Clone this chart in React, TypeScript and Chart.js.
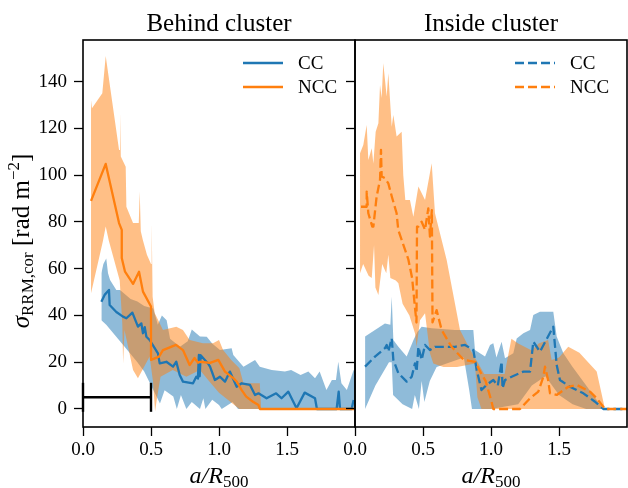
import React, { useEffect, useRef } from 'react';
import { Chart, registerables } from 'chart.js';

Chart.register(...registerables);

type P = [number, number][];

const SERIF = '"Liberation Serif", "DejaVu Serif", serif';
const BLUE = '#1f77b4';
const ORANGE = '#ff7f0e';
const BLUE_BAND = 'rgba(31,119,180,0.5)';
const ORANGE_BAND = 'rgba(255,127,14,0.5)';

// ---- axes / labels ----
const xTicks = [0, 0.5, 1.0, 1.5];
const yTicks = [0, 20, 40, 60, 80, 100, 120, 140];
const xMin = 0;
const xMax = 2.0;
const yMin = -7.7;
const yMax = 157.8;
const panelTitles = ['Behind cluster', 'Inside cluster'];
const seriesNames = ['CC', 'NCC'];

// ---- left panel (behind cluster) ----
const leftCcLine: P = [
  [0.135, 45.9], [0.159, 48.8], [0.191, 50.9], [0.196, 44.5], [0.245, 41.5], [0.294, 39.5],
  [0.319, 38.8], [0.363, 41.2], [0.404, 35.2], [0.429, 36.6], [0.441, 32.4], [0.454, 35],
  [0.466, 30.9], [0.49, 29.5], [0.527, 26], [0.551, 23.8], [0.564, 19.5], [0.613, 20.2],
  [0.662, 18.1], [0.686, 20.2], [0.711, 14.5], [0.735, 11.7], [0.809, 11], [0.833, 13.8],
  [0.845, 13], [0.852, 23.1], [0.858, 14], [0.865, 23], [0.919, 19.5], [0.934, 18.1],
  [0.97, 12.4], [1.007, 13.8], [1.044, 11.7], [1.08, 16], [1.13, 9.5], [1.167, 11],
  [1.228, 10.3], [1.265, 6], [1.29, 6.7], [1.35, 4.6], [1.42, 6.7], [1.46, 4.6],
  [1.51, 7.4], [1.57, 0.3], [1.63, 7], [1.706, 4.6], [1.72, 0], [1.865, 0], [1.88, 7.4],
  [1.89, 0], [1.975, 0], [1.99, 3.8],
];
const leftCcHi: P = [
  [0.135, 58], [0.15, 62], [0.171, 64.4], [0.184, 58], [0.199, 55.2], [0.245, 50.9],
  [0.272, 50.9], [0.35, 47], [0.4, 46], [0.45, 44], [0.517, 43], [0.55, 36], [0.58, 40],
  [0.615, 38], [0.64, 30], [0.713, 26.6], [0.77, 29], [0.8, 34], [0.86, 31], [0.91, 30.9],
  [0.95, 28], [1.007, 25.2], [1.093, 26], [1.105, 23.1], [1.18, 18.1], [1.265, 21],
  [1.3, 18.1], [1.387, 16.7], [1.485, 16], [1.53, 16.7], [1.6, 14.5], [1.657, 16],
  [1.706, 13.1], [1.74, 16], [1.79, 8.1], [1.83, 12.4], [1.86, 12.4], [1.877, 20.2],
  [1.9, 11], [1.94, 8.1], [1.99, 16.7], [2.0, 16],
];
const leftCcLo: P = [
  [0.135, 38], [0.171, 36], [0.2, 34], [0.3, 27], [0.4, 20], [0.45, 16], [0.517, 8.1],
  [0.566, 2.4], [0.6, 8], [0.664, 5.3], [0.69, 0], [0.72, 6], [0.76, 0], [0.8, 3],
  [0.86, 0], [0.885, 4.6], [0.9, 0], [0.95, 4], [1.0, 1.7], [1.02, 0], [1.1, 3],
  [1.14, 0], [2.0, 0],
];
const leftNccLine: P = [
  [0.059, 89], [0.167, 104.8], [0.265, 79.5], [0.285, 76.6], [0.285, 64.6], [0.309, 58.7],
  [0.368, 53.5], [0.412, 58.7], [0.441, 50.2], [0.5, 43.8], [0.5, 21], [0.559, 22.4],
  [0.588, 25.2], [0.684, 27.4], [0.735, 25.2], [0.784, 18.8], [0.82, 21.8], [0.846, 19.8],
  [0.86, 20.2], [0.934, 19.7], [0.995, 21], [1.044, 16], [1.105, 13.2], [1.13, 11.7],
  [1.167, 8.1], [1.2, 5.3], [1.25, 3.1], [1.29, 1.7], [1.3, 0], [2.0, 0],
];
const leftNccHi: P = [
  [0.059, 132], [0.066, 128.6], [0.142, 135], [0.167, 151], [0.265, 110.8], [0.272, 126.7],
  [0.278, 108], [0.314, 103.6], [0.319, 86.5], [0.368, 79.5], [0.41, 79.5], [0.417, 93],
  [0.425, 76], [0.44, 72.3], [0.47, 66], [0.5, 62], [0.505, 79.7], [0.512, 48],
  [0.527, 41], [0.588, 33.8], [0.686, 35.2], [0.735, 33.8], [0.784, 29.5], [0.882, 28.1],
  [0.956, 28.1], [1.0, 29.5], [1.03, 25.2], [1.09, 21], [1.15, 17.4], [1.18, 11],
  [1.3, 11], [1.31, 0],
];
const leftNccLo: P = [
  [0.059, 49.5], [0.147, 72], [0.167, 78], [0.19, 72], [0.27, 55], [0.289, 36.6],
  [0.295, 19.5], [0.305, 33.8], [0.368, 16.7], [0.404, 13.1], [0.49, 22.4], [0.515, 11.7],
  [0.53, -1], [0.545, 5], [0.57, 13.8], [0.66, 16.7], [0.76, 13.8], [0.86, 16.7],
  [0.92, 12.4], [1.0, 7], [1.15, 0], [1.31, 0],
];
const refBarX = [0, 0.5];
const refBarY = 5;
const refBarCap = 6.2;

// ---- right panel (inside cluster) ----
const rightCcLine: P = [
  [0.074, 18.1], [0.147, 22.4], [0.22, 26], [0.233, 27.4], [0.245, 24.5], [0.27, 30.2],
  [0.282, 21], [0.319, 15.3], [0.38, 11.7], [0.417, 13.8], [0.441, 19.5], [0.453, 16],
  [0.466, 26.6], [0.49, 21], [0.515, 27.4], [0.551, 25.2], [0.588, 26.6], [0.735, 26.6],
  [0.809, 27.4], [0.87, 25.2], [0.895, 16.7], [0.93, 8.1], [0.968, 10.3], [1.017, 12.4],
  [1.05, 10], [1.078, 20.2], [1.085, 8.8], [1.103, 12.4], [1.152, 13.8], [1.238, 16],
  [1.287, 16], [1.311, 28.8], [1.36, 24.5], [1.458, 35.2], [1.483, 18.8], [1.507, 12.4],
  [1.58, 9.5], [1.679, 6.7], [1.765, 3.1], [1.826, 0], [2.0, 0],
];
const rightCcHi: P = [
  [0.074, 31], [0.22, 36.6], [0.26, 36], [0.27, 48], [0.282, 29.5], [0.319, 26.6],
  [0.38, 22.4], [0.43, 29.5], [0.46, 33], [0.49, 35.2], [0.564, 34.5], [0.735, 33.8],
  [0.87, 33.8], [0.882, 25.2], [0.956, 22.4], [0.993, 27.4], [1.017, 28.1], [1.04, 22],
  [1.078, 28.8], [1.103, 21.7], [1.164, 23.8], [1.189, 30.2], [1.238, 32.4], [1.287, 33.8],
  [1.311, 40.2], [1.36, 41.6], [1.458, 41.6], [1.483, 31], [1.532, 23.8], [1.6, 18],
  [1.7, 10], [1.8, 2], [1.826, 0],
];
const rightCcLo: P = [
  [0.074, 0], [0.15, 10], [0.25, 20], [0.27, 20], [0.28, 6], [0.35, 2], [0.42, 0],
  [0.44, 6], [0.47, 0], [0.49, 12], [0.51, 3], [0.55, 12], [0.6, 18], [0.8, 22],
  [0.84, 8], [0.86, 0], [1.0, 0], [1.2, 2], [1.3, 10], [1.4, 14], [1.5, 6], [1.6, 2],
  [1.7, 0], [1.826, 0],
];
const rightNccLine: P = [
  [0.044, 86.5], [0.086, 86.5], [0.086, 93], [0.098, 83.7], [0.127, 78], [0.135, 78],
  [0.159, 90.8], [0.184, 98], [0.191, 110.8], [0.196, 99.4], [0.22, 98.7], [0.245, 96.5],
  [0.27, 91], [0.306, 83.7], [0.318, 76.6], [0.343, 72.3], [0.392, 64], [0.42, 56],
  [0.44, 44], [0.452, 37], [0.456, 78], [0.466, 78], [0.49, 80.1], [0.515, 76.6],
  [0.539, 85.8], [0.551, 73.7], [0.565, 85], [0.57, 37], [0.6, 42.3], [0.637, 33.8],
  [0.71, 26.6], [0.8, 21], [0.882, 20.2], [0.93, 15], [0.96, 12], [1.0, 4], [1.017, 0],
  [1.213, 0], [1.287, 4.6], [1.348, 7.4], [1.385, 13.8], [1.397, 18.1], [1.42, 12.4],
  [1.434, 6.7], [1.483, 6], [1.568, 9.5], [1.63, 10.3], [1.728, 7.4], [1.777, 4.6],
  [1.838, 0], [2.0, 0],
];
const rightNccHi: P = [
  [0.037, 109.4], [0.061, 112.9], [0.086, 121.5], [0.098, 106.5], [0.123, 111.5],
  [0.135, 105], [0.152, 118.6], [0.172, 122.2], [0.184, 138.6], [0.196, 133],
  [0.208, 147.9], [0.233, 133.6], [0.245, 143.6], [0.27, 120.7], [0.282, 125.7],
  [0.306, 116.5], [0.343, 118.6], [0.355, 100], [0.37, 89.4], [0.404, 89.4], [0.429, 82.2],
  [0.466, 95.1], [0.515, 89.4], [0.564, 105.1], [0.588, 83.7], [0.674, 63.7], [0.772, 33.8],
  [0.85, 25], [0.907, 19.5], [0.95, 15], [0.99, 15], [1.1, 15], [1.15, 30], [1.2, 28],
  [1.3, 25], [1.35, 28], [1.42, 29.5], [1.446, 21], [1.5, 22], [1.568, 26.6], [1.65, 24],
  [1.777, 16], [1.838, 0],
];
const rightNccLo: P = [
  [0.037, 58], [0.06, 62], [0.1, 57], [0.123, 56], [0.14, 70], [0.15, 52], [0.172, 48.8],
  [0.2, 62], [0.23, 58], [0.245, 66], [0.26, 56], [0.3, 55], [0.319, 53.8], [0.35, 45],
  [0.4, 40], [0.441, 32.4], [0.453, 26.6], [0.478, 38], [0.515, 40.9], [0.551, 23.8],
  [0.576, 19.5], [0.65, 18], [0.75, 18], [0.882, 19.5], [0.9, 5], [0.93, 0], [1.838, 0],
];

const pts = (a: P) => a.map(([x, y]) => ({ x, y }));
const LW = 2.3;
const DASH = [9, 4];

type Part = { t: string; f: string; dy: number };
function drawRich(ctx: CanvasRenderingContext2D, parts: Part[], cx: number, by: number) {
  let w = 0;
  for (const p of parts) { ctx.font = p.f; w += ctx.measureText(p.t).width; }
  let x = cx - w / 2;
  ctx.textAlign = 'left';
  ctx.textBaseline = 'alphabetic';
  for (const p of parts) {
    ctx.font = p.f;
    ctx.fillText(p.t, x, by + p.dy);
    x += ctx.measureText(p.t).width;
  }
}

function decor(cfg: { title: string; dashed: boolean; yLabel: boolean }) {
  return {
    id: 'decor',
    afterDraw(chart: any) {
      const ctx: CanvasRenderingContext2D = chart.ctx;
      const a = chart.chartArea;
      const cx = (a.left + a.right) / 2;
      ctx.save();
      ctx.strokeStyle = '#000';
      ctx.lineWidth = 1.6;
      ctx.setLineDash([]);
      ctx.strokeRect(a.left, a.top, a.right - a.left, a.bottom - a.top);
      ctx.fillStyle = '#000';
      ctx.font = `25px ${SERIF}`;
      ctx.textAlign = 'center';
      ctx.textBaseline = 'alphabetic';
      ctx.fillText(cfg.title, cx, 31);
      drawRich(ctx, [
        { t: 'a/R', f: `italic 24px ${SERIF}`, dy: 0 },
        { t: '500', f: `17px ${SERIF}`, dy: 4 },
      ], cx, 483);
      // legend
      const colors = [BLUE, ORANGE];
      const lx1 = a.right - 112;
      const lx2 = a.right - 72;
      const tx = a.right - 57;
      [63, 87].forEach((ly, i) => {
        ctx.strokeStyle = colors[i];
        ctx.lineWidth = LW;
        ctx.setLineDash(cfg.dashed ? DASH : []);
        ctx.beginPath();
        ctx.moveTo(lx1, ly);
        ctx.lineTo(lx2, ly);
        ctx.stroke();
        ctx.setLineDash([]);
        ctx.fillStyle = '#000';
        ctx.font = `19px ${SERIF}`;
        ctx.textAlign = 'left';
        ctx.textBaseline = 'middle';
        ctx.fillText(seriesNames[i], tx, ly + 1);
      });
      if (cfg.yLabel) {
        ctx.save();
        ctx.translate(29, 241);
        ctx.rotate(-Math.PI / 2);
        ctx.fillStyle = '#000';
        drawRich(ctx, [
          { t: 'σ', f: `italic 25px ${SERIF}`, dy: 0 },
          { t: 'RRM,cor', f: `17px ${SERIF}`, dy: 4 },
          { t: ' [rad m', f: `25px ${SERIF}`, dy: 0 },
          { t: '−2', f: `17px ${SERIF}`, dy: -10 },
          { t: ']', f: `25px ${SERIF}`, dy: 0 },
        ], 0, 0);
        ctx.restore();
      }
      ctx.restore();
    },
  };
}

function band(hi: P, lo: P, color: string, order: number) {
  return [
    { data: pts(hi), fill: '+1', backgroundColor: color, borderWidth: 0, pointRadius: 0, order },
    { data: pts(lo), fill: false, backgroundColor: color, borderWidth: 0, pointRadius: 0, order },
  ];
}
function line(d: P, color: string, dashed: boolean, order: number) {
  return {
    data: pts(d), borderColor: color, borderWidth: LW, borderDash: dashed ? DASH : [],
    borderJoinStyle: 'round', pointRadius: 0, fill: false, order,
  };
}

function makeChart(canvas: HTMLCanvasElement, side: 'left' | 'right') {
  const isLeft = side === 'left';
  const datasets: any[] = [];
  if (isLeft) {
    datasets.push(...band(leftCcHi, leftCcLo, BLUE_BAND, 10));
    datasets.push(...band(leftNccHi, leftNccLo, ORANGE_BAND, 9));
    datasets.push(line(leftCcLine, BLUE, false, 5));
    datasets.push(line(leftNccLine, ORANGE, false, 4));
    const bar = { borderColor: '#000', borderWidth: 2.4, pointRadius: 0, fill: false, order: 1, clip: false };
    datasets.push({ ...bar, data: refBarX.map((x) => ({ x, y: refBarY })) });
    refBarX.forEach((x) => {
      datasets.push({ ...bar, data: [{ x, y: refBarY - refBarCap }, { x, y: refBarY + refBarCap }] });
    });
  } else {
    datasets.push(...band(rightCcHi, rightCcLo, BLUE_BAND, 10));
    datasets.push(...band(rightNccHi, rightNccLo, ORANGE_BAND, 9));
    datasets.push(line(rightCcLine, BLUE, true, 5));
    datasets.push(line(rightNccLine, ORANGE, true, 4));
  }
  const tickFont = { family: SERIF, size: 19 };
  return new Chart(canvas, {
    type: 'line',
    data: { datasets },
    plugins: [decor({ title: isLeft ? panelTitles[0] : panelTitles[1], dashed: !isLeft, yLabel: isLeft })],
    options: {
      responsive: false,
      animation: false,
      devicePixelRatio: 1,
      layout: { padding: isLeft ? { left: 0, right: 273, top: 40, bottom: 0 } : { left: 346, right: 1, top: 40, bottom: 0 } },
      plugins: { legend: { display: false }, title: { display: false }, tooltip: { enabled: false } },
      scales: {
        x: {
          type: 'linear', min: xMin, max: xMax,
          afterBuildTicks: (s: any) => { s.ticks = xTicks.map((v) => ({ value: v })); },
          afterFit: (s: any) => { s.height = 61; },
          grid: { drawOnChartArea: false, drawTicks: true, tickLength: 9, tickWidth: 1.3, tickColor: '#000' },
          border: { display: false },
          ticks: { color: '#000', font: tickFont, padding: 3, autoSkip: false, maxRotation: 0, callback: (v: any) => Number(v).toFixed(1) },
        },
        y: {
          type: 'linear', min: yMin, max: yMax,
          afterBuildTicks: (s: any) => { s.ticks = yTicks.map((v) => ({ value: v })); },
          afterFit: (s: any) => { s.width = isLeft ? 83 : 9; },
          grid: { drawOnChartArea: false, drawTicks: true, tickLength: 9, tickWidth: 1.3, tickColor: '#000' },
          border: { display: false },
          ticks: { color: '#000', font: tickFont, padding: 7, autoSkip: false, callback: (v: any) => (isLeft ? String(v) : '') },
        },
      },
    } as any,
  });
}

export default function App() {
  const leftRef = useRef<HTMLCanvasElement>(null);
  const rightRef = useRef<HTMLCanvasElement>(null);
  useEffect(() => {
    const c1 = makeChart(leftRef.current!, 'left');
    const c2 = makeChart(rightRef.current!, 'right');
    return () => { c1.destroy(); c2.destroy(); };
  }, []);
  const cs: React.CSSProperties = { position: 'absolute', left: 0, top: 0, width: 628, height: 488 };
  return (
    <div style={{ position: 'fixed', left: 0, top: 0, width: 628, height: 488, background: '#fff' }}>
      <canvas ref={leftRef} width={628} height={488} style={cs} />
      <canvas ref={rightRef} width={628} height={488} style={{ ...cs, pointerEvents: 'none' }} />
    </div>
  );
}
